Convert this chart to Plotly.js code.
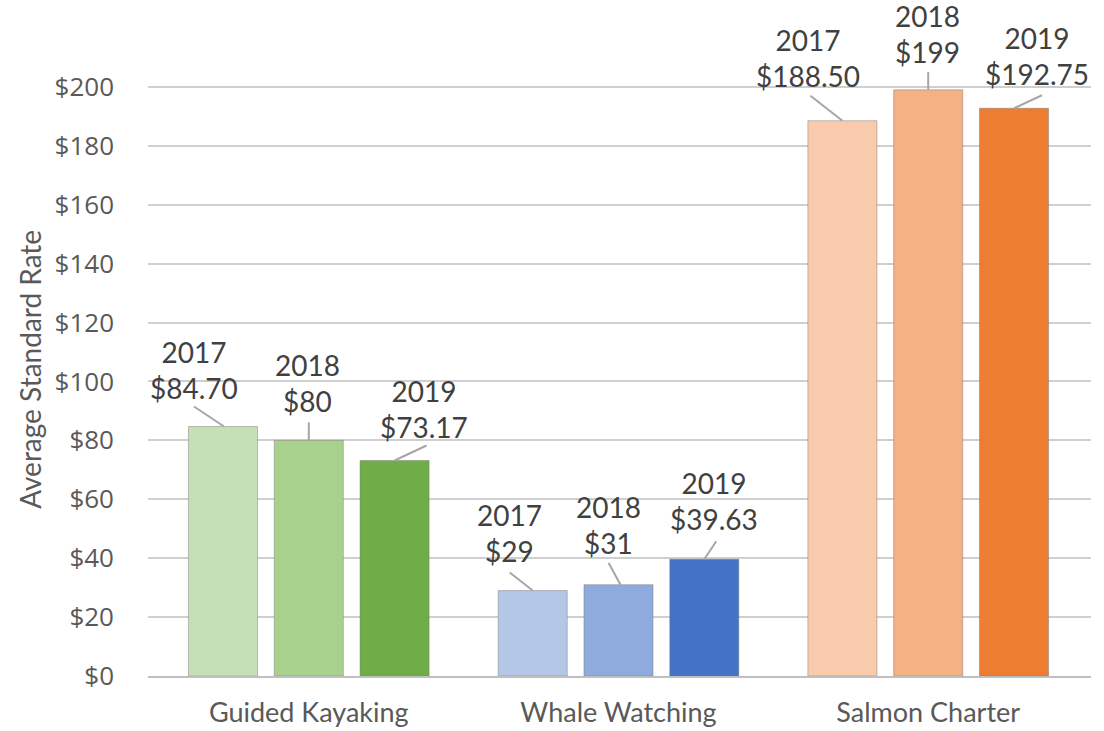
<!DOCTYPE html>
<html>
<head>
<meta charset="utf-8">
<script src="https://cdn.plot.ly/plotly-3.0.1.min.js"></script>
<style>html,body{margin:0;padding:0;background:#fff;}#chart{width:1104px;height:731px;}</style>
</head>
<body>
<div id="chart"></div>
<script>
// ---- data ----
var categories = ['Guided Kayaking', 'Whale Watching', 'Salmon Charter'];
var years = ['2017', '2018', '2019'];
var values2017 = [84.70, 29, 188.50];
var values2018 = [80, 31, 199];
var values2019 = [73.17, 39.63, 192.75];
var yTickValues = [0, 20, 40, 60, 80, 100, 120, 140, 160, 180, 200];
var yTickLabels = ['$0', '$20', '$40', '$60', '$80', '$100', '$120', '$140', '$160', '$180', '$200'];
var yTitle = 'Average Standard Rate';

// ---- styles ----
var colors2017 = ['#C5E0B4', '#B4C7E7', '#F8CBAD'];
var colors2018 = ['#A9D18E', '#8FAADC', '#F4B183'];
var colors2019 = ['#70AD47', '#4472C4', '#ED7D31'];

// label offsets (pixels, from bar-top centre) per year, per category: [dx, dy]
var labelOffsets = [
  [[-29, 57], [-23, 58], [-34, 63]],
  [[-1, 57], [-10, 60], [-1, 56]],
  [[29, 51], [10, 58], [23, 52]]
];
// leader lines (pixels, from bar-top centre): [x0, y0, x1, y1]
var leaderOffsets = [
  [[1, 0, -29, 20], [0, 0, -23, 18], [0, 0, -32, 25]],
  [[0, 0, 0, 18], [2, 0, -10, 22], [0, 0, 0, 18]],
  [[0, 0, 32, 15], [0, 0, 12, 18], [0, 0, 28, 13]]
];

var allValues = [values2017, values2018, values2019];
var allColors = [colors2017, colors2018, colors2019];
var bargap = 0.169, bargroupgap = 0.195;
var slot = (1 - bargap) / years.length;

function fmt(v) { return Number.isInteger(v) ? '$' + v : '$' + v.toFixed(2); }

var traces = [];
var annotations = [];
var shapes = [];
for (var t = 0; t < years.length; t++) {
  traces.push({
    type: 'bar',
    name: years[t],
    x: categories,
    y: allValues[t],
    marker: { color: allColors[t], line: { color: 'rgba(120,120,120,0.45)', width: 1 } },
    hoverinfo: 'x+y'
  });
  for (var c = 0; c < categories.length; c++) {
    var xpos = c + (t - (years.length - 1) / 2) * slot;
    var v = allValues[t][c];
    annotations.push({
      x: xpos, y: v, xref: 'x', yref: 'y',
      text: years[t] + '<br>' + fmt(v),
      showarrow: false,
      xshift: labelOffsets[t][c][0], yshift: labelOffsets[t][c][1],
      font: { family: 'Lato, sans-serif', size: 28, color: '#404040' },
      align: 'center'
    });
    var L = leaderOffsets[t][c];
    shapes.push({
      type: 'line', xref: 'x', yref: 'y',
      xsizemode: 'pixel', ysizemode: 'pixel',
      xanchor: xpos, yanchor: v,
      x0: L[0], y0: L[1], x1: L[2], y1: L[3],
      line: { color: '#A6A6A6', width: 2 }
    });
  }
}

// y-axis title drawn as rotated annotation to match its vertical placement
annotations.push({
  xref: 'paper', yref: 'paper', x: 0, y: 0.453,
  xanchor: 'center', yanchor: 'middle', xshift: -118,
  text: yTitle, textangle: -90, showarrow: false,
  font: { family: 'Lato, sans-serif', size: 28, color: '#595959' }
});

var layout = {
  width: 1104, height: 731,
  margin: { l: 148, r: 13, t: 0, b: 55 },
  paper_bgcolor: '#ffffff', plot_bgcolor: '#ffffff',
  barmode: 'group',
  bargap: bargap, bargroupgap: bargroupgap,
  showlegend: false,
  xaxis: {
    type: 'category',
    showline: true, linecolor: '#BFBFBF', linewidth: 2,
    ticks: '', showgrid: false, zeroline: false,
    ticklabelstandoff: 12,
    tickfont: { family: 'Lato, sans-serif', size: 27, color: '#595959' }
  },
  yaxis: {
    range: [0, 229.5],
    tickvals: yTickValues, ticktext: yTickLabels,
    showgrid: true, gridcolor: '#CFCFCF', gridwidth: 2,
    zeroline: false, showline: false, ticks: '',
    ticklabelstandoff: 33,
    tickfont: { family: 'Open Sans, sans-serif', size: 26, color: '#595959' },
    fixedrange: true
  },
  annotations: annotations,
  shapes: shapes
};

Plotly.newPlot('chart', traces, layout, { displayModeBar: false, staticPlot: true });
</script>
</body>
</html>
